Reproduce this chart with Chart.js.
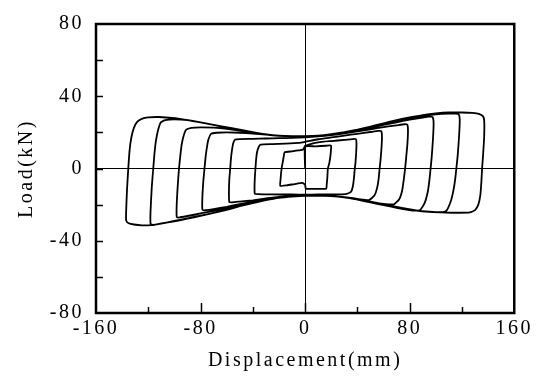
<!DOCTYPE html>
<html>
<head>
<meta charset="utf-8">
<script src="https://cdn.jsdelivr.net/npm/chart.js@4"></script>
<style>
  html, body { margin: 0; padding: 0; background: #fff; }
  #c { display: block; }
</style>
</head>
<body>
<canvas id="c" width="537" height="379"></canvas>
<script>
// hysteresis cycles, [displacement mm, load kN]
const loop1 = [[0,0],[0,12],[8,12.3],[16,12.6],[19.8,12.7],[19.5,8],[18.5,3],[17.4,0],[17,-5],[16.5,-9],[16.2,-11.2],[10,-11.3],[4,-11.3],[0.5,-11.2],[0,-9],[-2,-8],[-8,-8.6],[-14,-9.3],[-19,-9.6],[-18.8,-6],[-18,0],[-17,4],[-16.3,7],[-15.7,9],[-10,9.5],[-5,10],[-1.5,10.5],[0,12.5]];
const loop2 = [[10,14.5],[20,15.2],[30,15.8],[36,16.3],[38.8,16.3],[39.3,14],[39,8],[38.5,3],[38,0],[37.4,-5],[36.5,-10],[35,-13],[31,-14.2],[20,-14.3],[10,-14.4],[0,-14.5],[-10,-14.4],[-20,-14.4],[-30,-14.3],[-36,-14.2],[-38.5,-14],[-38.7,-10],[-38.4,-4],[-38,0],[-37.5,5],[-36.8,9],[-35.5,12],[-34,13.2],[-25,13.5],[-15,13.8],[-5,14.2],[0,14.8]];
const loop3 = [[10,16.2],[20,17.2],[30,18.2],[40,19.2],[50,20.2],[56,20.8],[58.3,20.6],[58.8,17],[58.3,10],[57.6,4],[57,0],[56.2,-6],[55,-11],[53,-15],[49,-17.5],[45,-17.3],[40,-16.8],[30,-15.8],[20,-15.1],[10,-14.8],[0,-14.8],[-10,-15.1],[-20,-15.7],[-30,-16.6],[-40,-17.6],[-50,-18.3],[-56,-18.7],[-58,-18.6],[-58.3,-14],[-58,-6],[-57.3,0],[-56.8,5],[-56,10],[-55,14],[-53.5,16],[-50,16.3],[-40,16.4],[-30,16.6],[-20,16.8],[-10,17],[0,17.3]];
const loop4 = [[10,17.8],[20,18.5],[30,19.4],[40,20.5],[50,21.7],[60,22.9],[70,23.9],[76,24.5],[78.2,24.2],[78.7,21],[78.3,14],[77.3,6],[76.5,0],[75.5,-6],[74.3,-12],[72,-17],[68,-19.8],[60,-19.6],[50,-18.5],[40,-17],[30,-15.9],[20,-15.2],[10,-15],[0,-15],[-10,-15.3],[-20,-15.9],[-30,-16.9],[-40,-18.3],[-50,-19.7],[-60,-21.2],[-70,-22.5],[-76,-23.1],[-78.5,-23],[-78.7,-18],[-78,-8],[-77,0],[-76.2,6],[-75.3,11],[-74,16],[-72,19.2],[-68,19.8],[-60,20],[-50,19.8],[-40,19.3],[-30,18.7],[-20,18.1],[-10,17.8],[0,17.7]];
const loop5 = [[10,18],[20,18.8],[30,19.8],[40,21.1],[50,22.6],[60,24.1],[70,25.6],[80,27],[90,28.2],[95,28.7],[97.5,28.5],[98.3,25],[97.8,16],[96.8,6],[96,0],[95,-7],[93.8,-13],[91.5,-19],[88,-23],[82,-23.3],[75,-22.5],[65,-21],[55,-19.6],[45,-18],[35,-16.6],[25,-15.6],[15,-15.1],[0,-15],[-10,-15.4],[-20,-16],[-30,-17.1],[-40,-18.6],[-50,-20.2],[-60,-21.8],[-70,-23.4],[-80,-24.9],[-90,-26.3],[-96,-27.1],[-98.2,-26.8],[-98.3,-21],[-97.5,-10],[-96.5,0],[-95.5,7],[-94.5,13],[-93,18],[-91,21.5],[-87,22.5],[-80,22.8],[-70,22.6],[-60,22],[-50,21],[-40,19.8],[-30,18.8],[-20,18.2],[-10,17.9],[0,17.8]];
const loop6 = [[10,18.1],[20,18.9],[30,19.9],[40,21.3],[50,23],[60,24.8],[70,26.5],[80,28],[90,29.2],[100,30],[110,30.4],[115,30.4],[117.5,30],[118.3,27],[117.8,18],[116.7,7],[115.7,0],[114.8,-6],[113.5,-12],[111.5,-18],[108,-23.5],[104,-24.2],[95,-23.9],[85,-23.2],[75,-22],[65,-20.5],[55,-19.1],[45,-17.6],[35,-16.3],[25,-15.5],[15,-15.1],[0,-15.1],[-10,-15.5],[-20,-16.2],[-30,-17.5],[-40,-19.1],[-50,-20.9],[-60,-22.7],[-70,-24.5],[-80,-26.2],[-90,-27.8],[-100,-29.2],[-110,-30.4],[-116,-31.3],[-118.2,-30.8],[-118.3,-24],[-117.3,-10],[-116.2,0],[-115.3,8],[-114.2,15],[-112.6,21],[-110.5,25.5],[-107,26.8],[-100,27.2],[-90,26.8],[-80,25.5],[-70,24.1],[-60,22.6],[-50,21.2],[-40,19.9],[-30,18.9],[-20,18.2],[-10,17.9],[0,17.9]];
const loop7 = [[10,18.2],[20,19],[30,20.1],[40,21.5],[50,23.2],[60,25],[70,26.8],[80,28.3],[90,29.6],[100,30.5],[110,31],[120,31],[128,30.8],[133,30.3],[136,29],[137,26.5],[137,18],[136.2,8],[135.4,0],[134.8,-8],[134,-15],[132.5,-20],[130,-23],[126,-24.3],[118,-24.5],[108,-24.4],[98,-24.1],[88,-23.6],[78,-22.6],[68,-21.3],[58,-20],[48,-18.3],[38,-16.7],[28,-15.7],[18,-15.2],[0,-15],[-10,-15.4],[-20,-16],[-30,-17.3],[-40,-19],[-50,-20.9],[-60,-22.9],[-70,-24.6],[-80,-26.1],[-90,-27.6],[-100,-29],[-110,-30.5],[-118,-31.4],[-125,-31.5],[-131,-31],[-135,-30.3],[-136.8,-29],[-137,-25],[-136.3,-12],[-135.3,0],[-134.3,10],[-133,17],[-131,22.5],[-128.5,25.8],[-125,27.5],[-120,28.3],[-112,28.5],[-104,28.1],[-96,27.5],[-86,26.3],[-76,25],[-66,23.6],[-55,22.2],[-45,20.8],[-35,19.5],[-25,18.5],[-15,18],[0,17.8]];

const xTicks = [-160, -120, -80, -40, 0, 40, 80, 120, 160];
const yTicks = [-80, -60, -40, -20, 0, 20, 40, 60, 80];
const xLabelStep = 80;
const yLabelStep = 40;

const cycles = [loop1, loop2, loop3, loop4, loop5, loop6, loop7];
const points = [];
cycles.forEach(c => c.forEach(p => points.push({ x: p[0], y: p[1] })));

const serif = "'Liberation Serif', 'Times New Roman', serif";
const spacing = '2.5px';

// the picture has spaced-out lettering, canvas resets state on resize so set it each time
const letterSpacing = {
  id: 'letterSpacing',
  beforeLayout(chart) { chart.ctx.letterSpacing = spacing; },
  beforeDraw(chart) { chart.ctx.letterSpacing = spacing; }
};

// frame + inward ticks
const frame = {
  id: 'frame',
  afterDraw(chart) {
    const { ctx, chartArea: a, scales } = chart;
    ctx.save();
    ctx.strokeStyle = '#000';
    ctx.lineWidth = 1.5;
    xTicks.forEach(v => {
      if (v === -160 || v === 160) return;
      const px = Math.round(scales.x.getPixelForValue(v)) + 0.5;
      const len = v % xLabelStep === 0 ? 10 : 6;
      ctx.beginPath();
      ctx.moveTo(px, a.bottom);
      ctx.lineTo(px, a.bottom - len);
      ctx.stroke();
    });
    yTicks.forEach(v => {
      if (v === -80 || v === 80) return;
      const py = Math.round(scales.y.getPixelForValue(v)) + 0.5;
      ctx.beginPath();
      ctx.moveTo(a.left, py);
      ctx.lineTo(a.left + 7, py);
      ctx.stroke();
    });
    ctx.lineWidth = 2.5;
    ctx.strokeRect(a.left, a.top, a.right - a.left, a.bottom - a.top);
    ctx.restore();
  }
};

const zeroLine = c => (c.tick && c.tick.value === 0 ? '#000' : 'rgba(0,0,0,0)');

new Chart(document.getElementById('c'), {
  type: 'scatter',
  data: {
    datasets: [{
      data: points,
      showLine: true,
      borderColor: '#000',
      borderWidth: 1.8,
      pointRadius: 0,
      tension: 0.15,
      fill: false
    }]
  },
  options: {
    responsive: false,
    animation: false,
    devicePixelRatio: 1,
    layout: { padding: { top: 19, right: 22, left: 0, bottom: 0 } },
    plugins: { legend: { display: false }, tooltip: { enabled: false } },
    scales: {
      x: {
        type: 'linear',
        min: -160, max: 160,
        afterBuildTicks: s => { s.ticks = xTicks.map(v => ({ value: v })); },
        afterFit: s => { s.height = 66; },
        ticks: {
          autoSkip: false, maxRotation: 0, padding: 4,
          color: '#000',
          font: { family: serif, size: 20 },
          callback: v => (v % xLabelStep === 0 ? String(v) : '')
        },
        grid: { drawTicks: false, color: zeroLine, lineWidth: 1 },
        border: { display: false },
        title: {
          display: true, text: 'Displacement(mm)', color: '#000',
          font: { family: serif, size: 20 }, padding: { top: 0, bottom: 6 }
        }
      },
      y: {
        type: 'linear',
        min: -80, max: 80,
        afterBuildTicks: s => { s.ticks = yTicks.map(v => ({ value: v })); },
        afterFit: s => { s.width = 96; },
        ticks: {
          autoSkip: false, padding: 12,
          color: '#000',
          font: { family: serif, size: 20 },
          callback: v => (v % yLabelStep === 0 ? String(v) : '')
        },
        grid: { drawTicks: false, color: zeroLine, lineWidth: 1 },
        border: { display: false },
        title: {
          display: true, text: 'Load(kN)', color: '#000',
          font: { family: serif, size: 20 }, padding: { top: 15, bottom: 0 }
        }
      }
    }
  },
  plugins: [letterSpacing, frame]
});
</script>
</body>
</html>
